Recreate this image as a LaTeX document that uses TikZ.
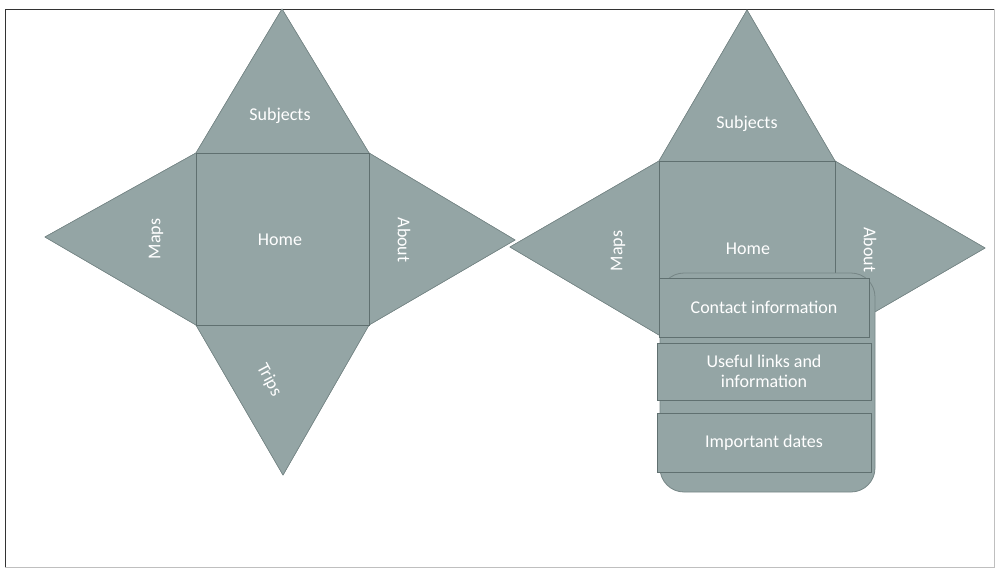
\documentclass[tikz,border=0pt]{standalone}
\usepackage{fontspec}
\setmainfont{Carlito}
\definecolor{netfill}{RGB}{148,165,165}
\definecolor{netline}{RGB}{118,134,134}
\definecolor{netdark}{RGB}{96,112,112}
\begin{document}
\begin{tikzpicture}[x=1pt,y=-1pt,
  face/.style={fill=netfill, draw=netline, line width=0.6pt, line join=round},
  sq/.style={fill=netfill, draw=netdark, line width=0.9pt},
  band/.style={fill=netfill, draw=netdark, line width=0.7pt, inner sep=0pt, text=white,
     font=\fontsize{18}{20}\selectfont, align=center},
  lbl/.style={text=white, font=\fontsize{18}{21}\selectfont, inner sep=0pt, align=center}]
\useasboundingbox (0,0) rectangle (995,570);
% frame
\draw[black!25, line width=0.8pt] (994,9) -- (994,567) -- (5,567);
\draw[black!80, line width=1pt] (5,567) -- (5,9) -- (994,9);

% ---------- left net ----------
\coordinate (la) at (196,153);
\coordinate (lb) at (369,153);
\coordinate (lc) at (369,325);
\coordinate (ld) at (196,325);
\coordinate (ltop) at (282,9);
\coordinate (lleft) at (45,237);
\coordinate (lright) at (515,240);
\coordinate (lbot) at (283,475);
\fill[face] (la) -- (ltop) -- (lb) -- cycle;
\fill[face] (la) -- (lleft) -- (ld) -- cycle;
\fill[face] (lb) -- (lright) -- (lc) -- cycle;
\fill[face] (ld) -- (lbot) -- (lc) -- cycle;
\draw[face] (la) -- (ltop) -- (lb);
\draw[face] (la) -- (lleft) -- (ld);
\draw[face] (lb) -- (lright) -- (lc);
\draw[face] (ld) -- (lbot) -- (lc);
\draw[sq] (la) rectangle (lc);
\node[lbl] (lsubj) at (280,116) {Subjects};
\node[lbl] (lhome) at (280,240) {Home};
\node[lbl, rotate=90] (lmaps) at (156,239) {Maps};
\node[lbl, rotate=-90] (labout) at (404,240) {About};
\node[lbl, rotate=-62] (ltrips) at (269,380) {Trips};

% ---------- right net ----------
\coordinate (ra) at (659,161);
\coordinate (rb) at (835,161);
\coordinate (rc) at (835,335);
\coordinate (rd) at (659,335);
\coordinate (rtop) at (747,10);
\coordinate (rleft) at (510,247);
\coordinate (rright) at (985,248);
\fill[face] (ra) -- (rtop) -- (rb) -- cycle;
\fill[face] (ra) -- (rleft) -- (rd) -- cycle;
\fill[face] (rb) -- (rright) -- (rc) -- cycle;
\draw[face] (ra) -- (rtop) -- (rb);
\draw[face] (ra) -- (rleft) -- (rd);
\draw[face] (rb) -- (rright) -- (rc);
\draw[sq] (ra) rectangle (rc);
\node[lbl] (rsubj) at (747,124) {Subjects};
\node[lbl] (rhome) at (748,249) {Home};
\node[lbl, rotate=90] (rmaps) at (618,251) {Maps};
\node[lbl, rotate=-90] (rabout) at (870,250) {About};

% rounded panel
\draw[face, draw=netline, line width=0.8pt, rounded corners=24pt] (660,273) rectangle (875,492);
\node[band, minimum width=210pt, minimum height=59pt] (contact) at (764,307.5) {Contact information};
\node[band, minimum width=214pt, minimum height=57pt] (useful) at (764,371.5) {Useful links and\\information};
\draw[netdark, line width=0.7pt] (657,413) -- (871,413);
\node[band, minimum width=214pt, minimum height=59pt] (dates) at (764,442.5) {Important dates};
\end{tikzpicture}
\end{document}
